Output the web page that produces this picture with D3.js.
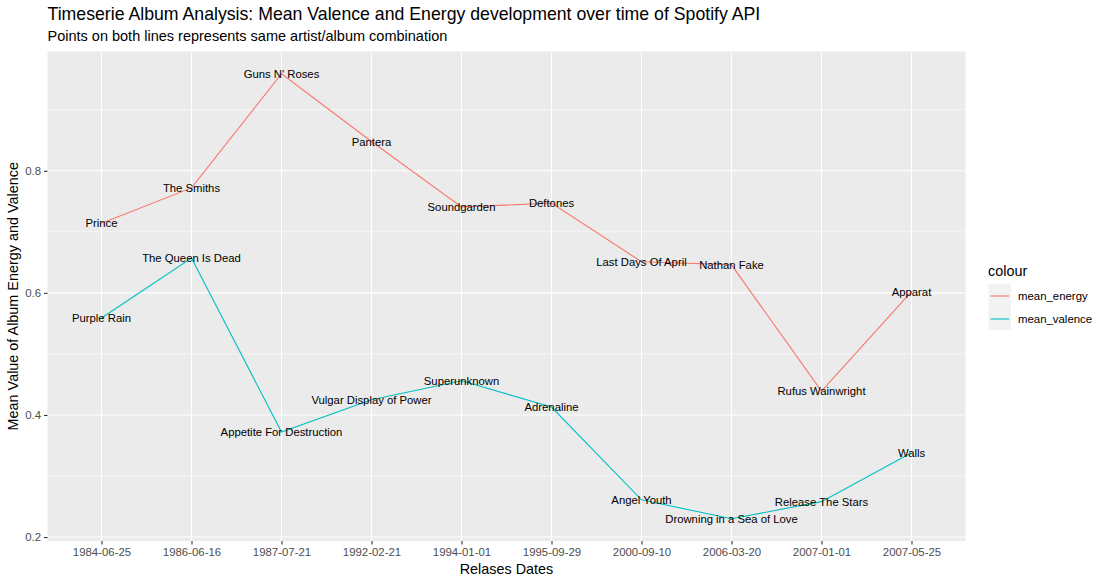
<!DOCTYPE html>
<html><head><meta charset="utf-8">
<script src="https://cdn.jsdelivr.net/npm/d3@7"></script>
<style>body{margin:0;background:#fff}svg{display:block;font-family:"Liberation Sans",Arial,Helvetica,sans-serif}</style>
</head><body><svg id="c" width="1109" height="584"></svg>
<script>
const dates = ["1984-06-25","1986-06-16","1987-07-21","1992-02-21","1994-01-01","1995-09-29","2000-09-10","2006-03-20","2007-01-01","2007-05-25"];
const artists = ["Prince","The Smiths","Guns N' Roses","Pantera","Soundgarden","Deftones","Last Days Of April","Nathan Fake","Rufus Wainwright","Apparat"];
const albums = ["Purple Rain","The Queen Is Dead","Appetite For Destruction","Vulgar Display of Power","Superunknown","Adrenaline","Angel Youth","Drowning in a Sea of Love","Release The Stars","Walls"];
const meanEnergy = [0.714,0.772,0.959,0.848,0.741,0.747,0.651,0.646,0.439,0.602];
const meanValence = [0.559,0.657,0.372,0.425,0.456,0.413,0.261,0.230,0.258,0.338];
const yTicks = [0.2,0.4,0.6,0.8];
const yMinor = [0.3,0.5,0.7,0.9];
const seriesNames = ["mean_energy","mean_valence"];
const colours = ["#F8766D","#00BFC4"];

const svg = d3.select("#c");
const P = {l:47.5, r:965.5, t:51.5, b:541};

const all = meanEnergy.concat(meanValence);
const lo = d3.min(all), hi = d3.max(all), rg = hi-lo;
const x = d3.scalePoint().domain(dates).range([P.l,P.r]).padding(0.6);
const y = d3.scaleLinear().domain([lo-0.05*rg, hi+0.05*rg]).range([P.b,P.t]);

svg.append("rect").attr("x",P.l).attr("y",P.t).attr("width",P.r-P.l).attr("height",P.b-P.t).attr("fill","#EBEBEB");
const g = svg.append("g");
g.selectAll(".mn").data(yMinor).join("line").attr("x1",P.l).attr("x2",P.r).attr("y1",d=>y(d)).attr("y2",d=>y(d)).attr("stroke","#fff").attr("stroke-width",0.55);
g.selectAll(".mj").data(yTicks).join("line").attr("x1",P.l).attr("x2",P.r).attr("y1",d=>y(d)).attr("y2",d=>y(d)).attr("stroke","#fff").attr("stroke-width",1.1);
g.selectAll(".vx").data(dates).join("line").attr("x1",d=>x(d)).attr("x2",d=>x(d)).attr("y1",P.t).attr("y2",P.b).attr("stroke","#fff").attr("stroke-width",1.1);

// axes
const xa = svg.append("g").attr("transform",`translate(0,${P.b})`).call(d3.axisBottom(x).tickSize(3.5).tickPadding(3.3));
const ya = svg.append("g").attr("transform",`translate(${P.l},0)`).call(d3.axisLeft(y).tickValues(yTicks).tickFormat(d3.format(".1f")).tickSize(3.5).tickPadding(3));
[xa,ya].forEach(a=>{a.select(".domain").remove();a.selectAll("line").attr("stroke","#333").attr("stroke-width",1.1);a.selectAll("text").attr("fill","#4D4D4D").style("font-size","11.4px").style("font-family","'Liberation Sans',Arial,sans-serif");});

const series = [meanEnergy, meanValence];
const labels = [artists, albums];
const line = d3.line().x((d,i)=>x(dates[i])).y(d=>y(d));
series.forEach((s,k)=>{
  svg.append("path").datum(s).attr("d",line).attr("fill","none").attr("stroke",colours[k]).attr("stroke-width",1.1);
});
series.forEach((s,k)=>{
  svg.append("g").selectAll("text").data(s).join("text")
    .attr("x",(d,i)=>x(dates[i])).attr("y",d=>y(d)).attr("dy","0.36em")
    .attr("text-anchor","middle").style("font-size","11.3px").attr("fill","#000")
    .text((d,i)=>labels[k][i]);
});

// titles
svg.append("text").attr("x",P.l).attr("y",20).style("font-size","17.7px").attr("fill","#000").text("Timeserie Album Analysis: Mean Valence and Energy development over time of Spotify API");
svg.append("text").attr("x",P.l).attr("y",40.5).style("font-size","14.5px").attr("fill","#000").text("Points on both lines represents same artist/album combination");
svg.append("text").attr("x",(P.l+P.r)/2).attr("y",574).attr("text-anchor","middle").style("font-size","14.4px").attr("fill","#000").text("Relases Dates");
svg.append("text").attr("transform",`translate(18,${(P.t+P.b)/2}) rotate(-90)`).attr("text-anchor","middle").style("font-size","14.4px").attr("fill","#000").text("Mean Value of Album Energy and Valence");

// legend
const L = svg.append("g");
L.append("text").attr("x",988).attr("y",276).style("font-size","14.4px").attr("fill","#000").text("colour");
L.selectAll("rect").data(seriesNames).join("rect").attr("x",988.5).attr("y",(d,i)=>284+i*23).attr("width",22.5).attr("height",23).attr("fill","#F2F2F2");
L.selectAll("line").data(seriesNames).join("line").attr("x1",990.5).attr("x2",1009).attr("y1",(d,i)=>296+i*23).attr("y2",(d,i)=>296+i*23).attr("stroke",(d,i)=>colours[i]).attr("stroke-width",1.1);
L.selectAll(".lt").data(seriesNames).join("text").attr("x",1018).attr("y",(d,i)=>296+i*23).attr("dy","0.36em").style("font-size","11.4px").attr("fill","#000").text(d=>d);
</script></body></html>
